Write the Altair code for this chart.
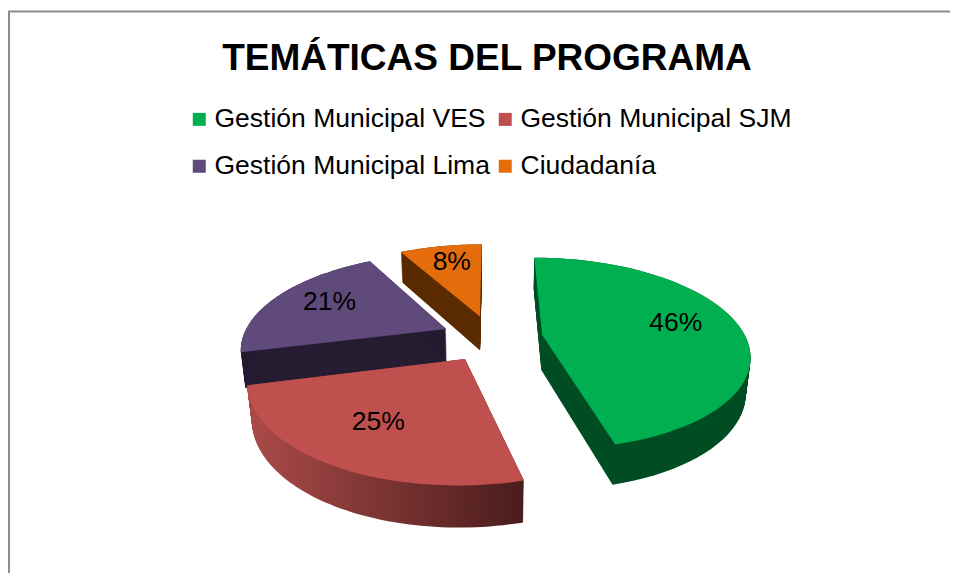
import altair as alt
import pandas as pd

# ---------------- data ----------------
CATEGORIES = ["Gestión Municipal VES", "Gestión Municipal SJM",
              "Gestión Municipal Lima", "Ciudadanía"]
VALUES = [46, 25, 21, 8]
SLICE_ORDER = [0, 1, 2, 3]

# ---------------- style ----------------
TOP_COLORS = ["#00B050", "#C0504D", "#604A7B", "#E46C0A"]
WALL_COLORS = {
    "Gestión Municipal VES": "#004D24",
    "Gestión Municipal SJM": {"gradient": "linear",
                              "stops": [{"offset": 0, "color": "#A94A48"},
                                        {"offset": 1, "color": "#4A1C1C"}]},
    "Gestión Municipal Lima": "#261C32",
    "Ciudadanía": "#5A2A00",
}
DRAW_ORDER = ["Gestión Municipal Lima", "Ciudadanía",
              "Gestión Municipal SJM", "Gestión Municipal VES"]
FONT = "Liberation Sans"

# ---------------- layout / camera ----------------
W, PAD_TOP, H = 942, 100, 465
CENTER_X, CENTER_Y = 484, 230      # pie centre inside the plot area (px)
FOCAL = 987                        # px per unit at the projection plane
X_SQUEEZE = 0.97                   # horizontal squeeze of the pie
DIST = 4.7                         # camera distance (pie radius = 1)
SIN_T, COS_T = 0.444, 0.896        # camera tilt
THICK = 0.19                       # pie thickness
EXPLODE = 0.25
N_ARC = 60
N_LEVELS = 40
LABEL_R = 0.68

FX = FOCAL * X_SQUEEZE
x_dom = [-CENTER_X / FX, (W - CENTER_X) / FX]
y_dom = [-(H - CENTER_Y) / FOCAL, CENTER_Y / FOCAL]

df = pd.DataFrame({"cat": CATEGORIES, "value": VALUES, "order": SLICE_ORDER})
base = alt.Chart(df).transform_joinaggregate(
    total="sum(value)"
).transform_window(
    cum="sum(value)", sort=[alt.SortField("order")], frame=[None, 0]
).transform_calculate(
    a0="2*PI*(datum.cum - datum.value)/datum.total",
    a1="2*PI*datum.cum/datum.total",
).transform_calculate(
    am="(datum.a0 + datum.a1)/2",
).transform_calculate(
    ex=f"{EXPLODE}*sin(datum.am)",
    ez=f"{EXPLODE}*cos(datum.am)",
    label="format(datum.value/datum.total, '.0%')",
)

xenc = alt.X("px:Q", scale=alt.Scale(domain=x_dom, nice=False, zero=False), axis=None)
yenc = alt.Y("py:Q", scale=alt.Scale(domain=y_dom, nice=False, zero=False), axis=None)


def project(chart):
    return chart.transform_calculate(
        depth=f"{DIST} + datum.Z*{COS_T} - datum.Yh*{SIN_T}"
    ).transform_calculate(
        px="datum.X/datum.depth",
        py=f"(datum.Z*{SIN_T} + datum.Yh*{COS_T})/datum.depth",
    )


def polygons(chart, levels):
    c = chart.transform_calculate(k=f"sequence(0, {N_ARC + 1})").transform_flatten(["k"])
    c = c.transform_calculate(lv=f"sequence(0, {levels + 1})").transform_flatten(["lv"])
    c = c.transform_calculate(
        ang=f"datum.k == 0 ? 0 : datum.a0 + (datum.a1 - datum.a0)*(datum.k - 1)/{N_ARC - 1}",
    ).transform_calculate(
        X="datum.ex + (datum.k == 0 ? 0 : sin(datum.ang))",
        Z="datum.ez + (datum.k == 0 ? 0 : cos(datum.ang))",
        Yh=f"-{THICK}*datum.lv/{max(levels, 1)}",
    )
    return project(c)


layers = []
# side walls (stacked copies), back slices first
for cat in DRAW_ORDER:
    wall = polygons(base.transform_filter(alt.datum.cat == cat), N_LEVELS)
    layers.append(
        wall.mark_line(fill=WALL_COLORS[cat], strokeWidth=0, interpolate="linear-closed")
        .encode(x=xenc, y=yenc, order="k:Q", detail="lv:O")
    )

# top faces
top = polygons(base, 0).mark_line(strokeWidth=0, interpolate="linear-closed").encode(
    x=xenc, y=yenc, order="k:Q",
    fill=alt.Fill("cat:N", sort=CATEGORIES,
                  scale=alt.Scale(domain=CATEGORIES, range=TOP_COLORS),
                  legend=alt.Legend(
                      title=None, orient="none", legendX=178, legendY=-2,
                      columns=2, direction="horizontal",
                      symbolType="square", symbolSize=169, symbolStrokeWidth=0,
                      labelFont=FONT, labelFontSize=26.5, labelColor="#000000",
                      labelLimit=500, labelOffset=2, columnPadding=2,
                      rowPadding=20, padding=0)),
)
layers.append(top)

# percentage labels
labels = project(base.transform_calculate(
    X=f"datum.ex + {LABEL_R}*sin(datum.am)",
    Z=f"datum.ez + {LABEL_R}*cos(datum.am)",
    Yh="0",
)).mark_text(font=FONT, fontSize=26.5, color="#000000", dy=-4).encode(
    x=xenc, y=yenc, text="label:N"
)
layers.append(labels)

# chart-area frame (top and left edges)
frame_df = pd.DataFrame({"f": [0]})
top_rule = alt.Chart(frame_df).mark_rule(color="#8C8C8C", strokeWidth=2).encode(
    x=alt.value(0), x2=alt.value(W), y=alt.value(-96.5)
)
left_rule = alt.Chart(frame_df).mark_rule(color="#8C8C8C", strokeWidth=2).encode(
    x=alt.value(1), y=alt.value(-96.5), y2=alt.value(H)
)
layers += [top_rule, left_rule]

chart = alt.layer(*layers).properties(
    width=W, height=H,
    autosize=alt.AutoSizeParams(type="none"),
    padding={"left": 0, "top": PAD_TOP, "right": 0, "bottom": 0},
    title=alt.TitleParams(
        "TEMÁTICAS DEL PROGRAMA", font=FONT, fontSize=37, fontWeight="bold",
        color="#000000", anchor="middle", frame="group", offset=-96.5,
        baseline="alphabetic", dx=8),
).configure_view(strokeWidth=0)

chart.save("out.html", embed_options={"renderer": "svg", "actions": False})
